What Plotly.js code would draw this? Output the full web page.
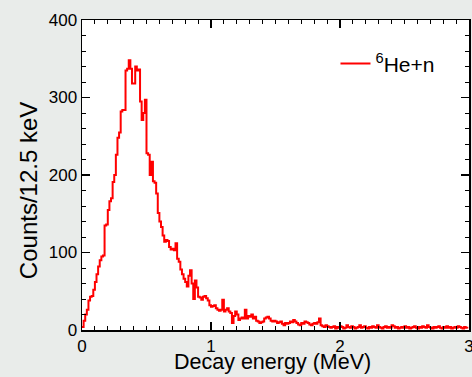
<!DOCTYPE html>
<html><head><meta charset="utf-8">
<script src="https://cdn.plot.ly/plotly-3.0.1.min.js"></script>
<style>html,body{margin:0;padding:0;background:#e9ecea;}</style>
</head><body>
<div id="chart" style="width:472px;height:377px;"></div>
<script>
const binWidth = 0.0125; // MeV
const seriesName = "<sup>6</sup>He+n";
const xTitle = 'Decay energy (MeV)';
const yTitle = 'Counts/12.5 keV';
const counts = [
 4,12,20,26,38,43,44,52,62,72,82,90,95,96,135,136,155,166,170,191,
 200,226,248,255,282,284,284,335,337,348,337,318,318,340,335,336,295,271,280,297,
 228,226,200,217,192,190,176,151,140,133,122,114,116,115,107,104,105,103,112,92,
 88,78,72,66,62,56,70,77,60,40,64,55,43,42,39,43,44,41,38,32,
 30,31,32,28,26,25,26,39,24,26,28,24,22,9,18,24,20,13,15,16,
 15,26,15,18,17,20,15,17,12,11,9,10,11,15,16,17,15,12,11,12,
 11,9,10,11,8,6,9,8,9,11,10,13,11,9,7,6,9,8,11,10,
 9,7,6,8,9,8,10,15,6,5,4,6,5,4,3,4,5,2,4,3,
 5,4,2,3,6,4,3,5,4,2,3,4,6,3,4,5,3,2,4,3,
 5,4,3,6,4,3,2,4,5,3,4,3,6,5,3,4,2,3,4,3,
 5,3,4,2,3,4,5,3,2,4,3,5,4,3,6,4,3,2,4,3,
 4,5,3,2,4,3,5,3,4,2,3,4,3,5,4,3,2,4,3,2
];
const energies = counts.map((c, i) => i * binWidth);
const xTicks = [0, 1, 2, 3];
const yTicks = [0, 100, 200, 300, 400];

const FONT = 'Liberation Sans, Arial, sans-serif';
const trace = {
  x: energies, y: counts, type: 'scatter', mode: 'lines',
  line: {color: '#ff0000', width: 2, shape: 'hv'},
  name: seriesName, showlegend: true
};
const axisCommon = {
  showgrid: false, zeroline: false, showline: true, linecolor: '#000', linewidth: 1.5,
  mirror: 'allticks', ticks: 'inside', ticklen: 8, tickwidth: 1.5, tickcolor: '#000',
  tickfont: {family: FONT, size: 17, color: '#000'}
};
const layout = {
  width: 472, height: 377,
  paper_bgcolor: '#e9ecea', plot_bgcolor: '#ffffff',
  margin: {l: 82, r: 3, t: 20, b: 47},
  xaxis: Object.assign({}, axisCommon, {
    range: [0, 3.0005], tickmode: 'array', tickvals: xTicks, ticktext: xTicks.map(String),
    ticklabeloverflow: 'allow',
    minor: {dtick: 0.1, ticks: 'inside', ticklen: 4, tickwidth: 1, tickcolor: '#000'}
  }),
  yaxis: Object.assign({}, axisCommon, {
    range: [0, 400], tickmode: 'array', tickvals: yTicks, ticktext: yTicks.map(String),
    minor: {dtick: 20, ticks: 'inside', ticklen: 4, tickwidth: 1, tickcolor: '#000'}
  }),
  annotations: [
    {text: xTitle, xref: 'paper', yref: 'paper', x: 0.4935, y: -0.102,
     xanchor: 'center', yanchor: 'middle', showarrow: false,
     font: {family: FONT, size: 21.5, color: '#000'}},
    {text: yTitle, xref: 'paper', yref: 'paper', x: -0.1395, y: 0.448, textangle: -90,
     xanchor: 'center', yanchor: 'middle', showarrow: false,
     font: {family: FONT, size: 24, color: '#000'}}
  ],
  legend: {x: 0.655, y: 0.925, xanchor: 'left', yanchor: 'top', bgcolor: 'rgba(0,0,0,0)',
    font: {family: FONT, size: 21, color: '#000'}},
  showlegend: true
};
Plotly.newPlot('chart', [trace], layout, {displayModeBar: false, staticPlot: true});
</script>
</body></html>
